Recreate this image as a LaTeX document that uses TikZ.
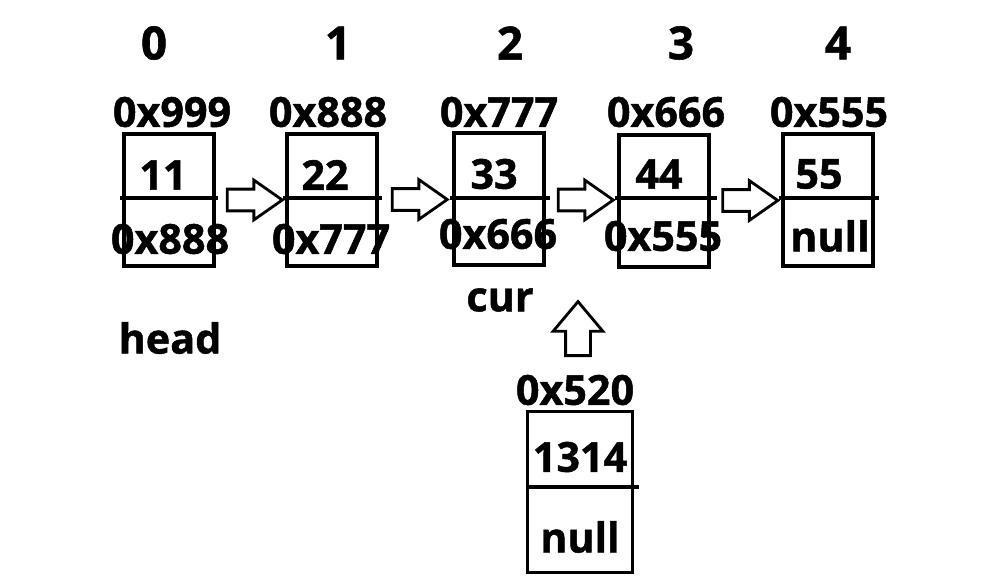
\documentclass[tikz,border=0pt]{standalone}
\usepackage{fontspec}
\setmainfont{Open Sans}[BoldFeatures={FakeBold=1.2}]
\usepackage{tikz}
\usetikzlibrary{positioning, shapes.arrows, calc}

\begin{document}
\begin{tikzpicture}[
    x=0.02cm, y=-0.02cm,
    cell/.style={
        draw,
        line width=1.9pt,
        minimum width=1.8cm,
        minimum height=2.64cm,
        inner sep=0pt
    },
    lbl/.style={
        font=\bfseries\fontsize{23.5}{28}\selectfont,
        inner sep=0pt
    },
    idx/.style={
        font=\bfseries\fontsize{26}{30}\selectfont,
        inner sep=0pt
    },
    divider/.style={line width=1.9pt},
    blockarrow/.style={
        single arrow,
        draw,
        line width=1.6pt,
        inner xsep=0pt,
        inner ysep=0.19cm,
        minimum height=1.1cm,
        single arrow head extend=0.18cm,
        single arrow tip angle=70
    }
]
\useasboundingbox (0,0) rectangle (982,577);

% --- indices ---
\node[idx] (i0) at (154,43) {0};
\node[idx] (i1) at (338,43) {1};
\node[idx] (i2) at (510,43) {2};
\node[idx] (i3) at (681,43) {3};
\node[idx] (i4) at (838,43) {4};

% --- nodos ---
\node[cell] (n0) at (169,200) {};
\node[cell] (n1) at (332,200) {};
\node[cell] (n2) at (499,199) {};
\node[cell] (n3) at (664,201) {};
\node[cell] (n4) at (828,200) {};

\draw[divider] ([shift={(-2,-2)}]n0.west) -- ([shift={(2,-2)}]n0.east);
\draw[divider] ([shift={(-2,-2)}]n1.west) -- ([shift={(3,-2)}]n1.east);
\draw[divider] ([shift={(-2,-1)}]n2.west) -- ([shift={(4,-1)}]n2.east);
\draw[divider] ([shift={(-2,-3)}]n3.west) -- ([shift={(6,-3)}]n3.east);
\draw[divider] ([shift={(-2,-2)}]n4.west) -- ([shift={(4,-2)}]n4.east);

% --- direcciones ---
\node[lbl] (a0) at (172,112) {0x999};
\node[lbl] (a1) at (328,112) {0x888};
\node[lbl] (a2) at (499,112) {0x777};
\node[lbl] (a3) at (666,112) {0x666};
\node[lbl] (a4) at (829,112) {0x555};

% --- valores ---
\node[lbl] (v0) at (163,175) {11};
\node[lbl] (v1) at (325,175) {22};
\node[lbl] (v2) at (494,174) {33};
\node[lbl] (v3) at (659,174) {44};
\node[lbl] (v4) at (819,174) {55};

% --- next ---
\node[lbl] (p0) at (170,239) {0x888};
\node[lbl] (p1) at (331,239) {0x777};
\node[lbl] (p2) at (498,234) {0x666};
\node[lbl] (p3) at (663,236) {0x555};
\node[lbl] (p4) at (830,236) {null};

% --- flechas ---
\path (n0.east) -- (n1.west) node[blockarrow, midway, xshift=-2] (e01) {};
\path (n1.east) -- (n2.west) node[blockarrow, midway, xshift=-2] (e12) {};
\path (n2.east) -- (n3.west) node[blockarrow, midway, xshift=-2] (e23) {};
\path (n3.east) -- (n4.west) node[blockarrow, midway, xshift=-2] (e34) {};

% --- head / cur ---
\node[lbl] (head) at (170,338) {head};
\node[lbl] (cur) at (500,300) {cur};

% --- nodo nuevo ---
\node[cell, minimum width=2.1cm, minimum height=3.22cm] (nn) at (580,492) {};
\draw[divider] ([shift={(0,-5)}]nn.west) -- ([shift={(5,-5)}]nn.east);
\node[lbl] (an) at (575,390) {0x520};
\node[lbl] (vn) at (580,457) {1314};
\node[lbl] (pn) at (580,537) {null};

\node[blockarrow, shape border rotate=90, minimum height=1.08cm,
      inner xsep=0.22cm, inner ysep=0pt, single arrow head extend=0.25cm,
      single arrow tip angle=80] (up) at (578,336) {};

\end{tikzpicture}
\end{document}
